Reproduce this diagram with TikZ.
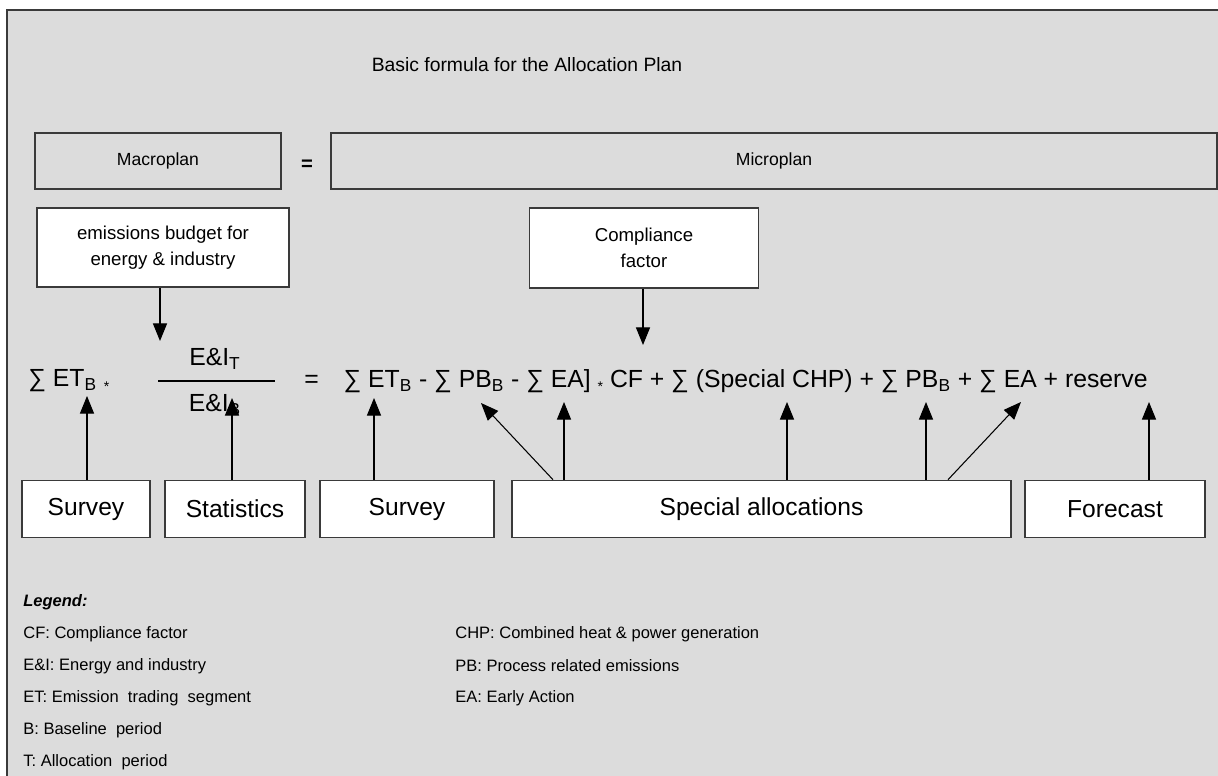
\documentclass[tikz,border=0pt]{standalone}
\usepackage{fontspec}
\setmainfont{Liberation Sans}
\usetikzlibrary{arrows.meta,calc}
\newcommand{\pxu}{0.02cm}
\newcommand{\smallstar}{\raisebox{-0.35ex}{\footnotesize *}}
\definecolor{panelgray}{HTML}{DCDCDC}
\definecolor{framegray}{HTML}{3A3A3A}
\tikzset{
  box/.style={draw=framegray, line width=0.9pt, inner sep=0pt, align=center},
  whitebox/.style={box, fill=white},
  arr/.style={-{Triangle[length=10pt,width=8pt]}, line width=0.6pt},
  fml/.style={inner sep=0pt, font=\fontsize{14.1}{16}\selectfont},
  legtext/.style={anchor=west, inner sep=0pt, font=\fontsize{9.4}{11}\selectfont}
}
\begin{document}
\begin{tikzpicture}[x=\pxu, y=-\pxu]
\useasboundingbox (0,0) rectangle (1218,776);
\fill[white] (0,0) rectangle (1218,776);
\draw[framegray, line width=1.1pt, fill=panelgray] (7,10) rectangle (1240,800);

% title and plan row
\node[font=\fontsize{11}{13}\selectfont] (title) at (527,65) {Basic formula for the Allocation Plan};
\node[box, minimum width=246*\pxu, minimum height=56*\pxu,
      font=\fontsize{10}{12}\selectfont] (macro) at (158,161) {Macroplan};
\node[font=\bfseries\fontsize{11.5}{13}\selectfont] (eq) at (307,165) {=};
\node[box, minimum width=886*\pxu, minimum height=56*\pxu,
      font=\fontsize{10}{12}\selectfont] (micro) at (774,161) {Microplan};

% upper boxes
\node[whitebox, minimum width=252*\pxu, minimum height=79*\pxu,
      font=\fontsize{10.6}{15}\selectfont] (budget) at (163,247.5)
      {emissions budget for\\energy \& industry};
\node[whitebox, minimum width=229*\pxu, minimum height=80*\pxu,
      font=\fontsize{10.6}{15}\selectfont] (cf) at (644,248)
      {Compliance\\factor};

% formula
\node[fml, anchor=west] (lhs) at (28,381) {∑ ET\textsubscript{B} \smallstar};
\node[fml] (num) at (215,359) {E\&I\textsubscript{T}};
\node[fml] (den) at (215,405) {E\&I\textsubscript{B}};
\coordinate (fracl) at (158,381);
\coordinate (fracr) at (275,381);
\draw[line width=0.6pt] (fracl) -- (fracr);
\node[fml, anchor=west] (rhs) at (304,381)
  {=\quad ∑ ET\textsubscript{B} - ∑ PB\textsubscript{B} - ∑ EA] \smallstar\ CF + ∑ (Special CHP) + ∑ PB\textsubscript{B} + ∑ EA + reserve};

% lower boxes
\tikzset{lowbox/.style={whitebox, minimum height=57*\pxu, font=\fontsize{14}{16}\selectfont}}
\node[lowbox, minimum width=128*\pxu] (survA) at (86,509) {Survey};
\node[lowbox, minimum width=140*\pxu] (stats) at (235,509) {Statistics};
\node[lowbox, minimum width=174*\pxu] (survB) at (407,509) {Survey};
\node[lowbox, minimum width=499*\pxu] (special) at (761.5,509) {Special allocations};
\node[lowbox, minimum width=180*\pxu] (fcast) at (1115,509) {Forecast};

% arrow tips
\coordinate (budgettip) at (160,341);
\coordinate (cftip) at (643,345);
\coordinate (tA) at (87,396);
\coordinate (tB) at (232,398);
\coordinate (tC) at (374,398);
\coordinate (tD) at (481,403);
\coordinate (tE) at (564,402);
\coordinate (tF) at (787,402);
\coordinate (tG) at (926,402);
\coordinate (tH) at (1021,402);
\coordinate (tI) at (1149,402);
\coordinate (sD) at (553,481);
\coordinate (sH) at (948,481);

\draw[arr] (budget.south -| budgettip) -- (budgettip);
\draw[arr] (cf.south -| cftip) -- (cftip);
\draw[arr] (survA.north -| tA) -- (tA);
\draw[arr] (stats.north -| tB) -- (tB);
\draw[arr] (survB.north -| tC) -- (tC);
\draw[arr] (special.north -| sD) -- (tD);
\draw[arr] (special.north -| tE) -- (tE);
\draw[arr] (special.north -| tF) -- (tF);
\draw[arr] (special.north -| tG) -- (tG);
\draw[arr] (special.north -| sH) -- (tH);
\draw[arr] (fcast.north -| tI) -- (tI);

% legend
\node[legtext, font=\bfseries\itshape\fontsize{9.4}{11}\selectfont] (legend) at (23,602) {Legend:};
\node[legtext] (lcf) at (23,634) {CF: Compliance factor};
\node[legtext] (lei) at (23,666) {E\&I: Energy and industry};
\node[legtext] (let) at (23,698) {ET: Emission~ trading~ segment};
\node[legtext] (lb) at (23,730) {B: Baseline~ period};
\node[legtext] (lt) at (23,762) {T: Allocation~ period};
\node[legtext] (lchp) at (455,634) {CHP: Combined heat \& power generation};
\node[legtext] (lpb) at (455,666) {PB: Process related emissions};
\node[legtext] (lea) at (455,698) {EA: Early Action};
\end{tikzpicture}
\end{document}
